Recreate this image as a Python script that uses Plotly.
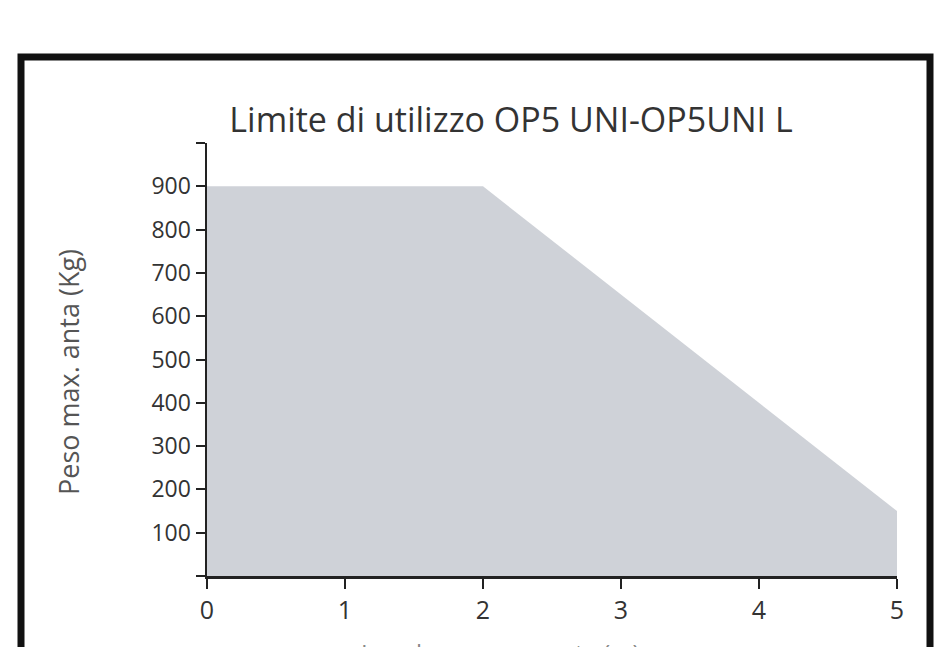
import plotly.graph_objects as go

# Data
lunghezza = [0, 2, 5]          # m
peso_max = [900, 900, 150]     # Kg
y_ticks = [0, 100, 200, 300, 400, 500, 600, 700, 800, 900, 1000]
y_tick_labels = ["", "100", "200", "300", "400", "500", "600", "700", "800", "900", ""]
x_ticks = [0, 1, 2, 3, 4, 5]
x_tick_labels = ["0", "1", "2", "3", "4", "5"]
title_text = "Limite di utilizzo OP5 UNI-OP5UNI L"
y_title = "Peso max. anta (Kg)"
x_title = "Lunghezza max. anta (m)"

W, H = 939, 647
L, R, T, B = 207, 42, 143, 71
pw, ph = W - L - R, H - T - B

def px(x):
    return (x - L) / pw

def py(y):
    return (H - B - y) / ph

fig = go.Figure()
fig.add_trace(go.Scatter(
    x=lunghezza, y=peso_max, mode="lines", fill="tozeroy",
    line=dict(width=0, color="#cfd2d8"), fillcolor="#cfd2d8",
    hoverinfo="skip", showlegend=False,
))

font = "Open Sans"
fig.update_layout(
    width=W, height=H,
    margin=dict(l=L, r=R, t=T, b=B, pad=0),
    paper_bgcolor="white", plot_bgcolor="white",
    font=dict(family=font, color="#333333"),
    title=dict(text=title_text, automargin=False,
               x=px(511), xref="paper", xanchor="center",
               y=1 - 120 / H, yref="container", yanchor="middle",
               font=dict(size=34, color="#333333", family=font)),
    xaxis=dict(range=[0, 5], tickvals=x_ticks, ticktext=x_tick_labels,
               automargin=False, fixedrange=True,
               showgrid=False, zeroline=False, showline=True,
               linecolor="#222222", linewidth=2.5,
               ticks="outside", ticklen=10, tickwidth=2, tickcolor="#222222",
               tickfont=dict(size=25, color="#333333")),
    yaxis=dict(range=[0, 1000], tickvals=y_ticks, ticktext=y_tick_labels,
               automargin=False, fixedrange=True,
               showgrid=False, zeroline=False, showline=True,
               linecolor="#222222", linewidth=2.5,
               ticks="outside", ticklen=9, tickwidth=2, tickcolor="#222222",
               tickfont=dict(size=23, color="#333333")),
    annotations=[
        dict(text=y_title, textangle=-90, xref="paper", yref="paper",
             x=px(68), y=py(372), xanchor="center", yanchor="middle",
             showarrow=False, font=dict(size=27, color="#555555", family=font)),
        dict(text=x_title, xref="paper", yref="paper",
             x=px(500), y=py(652), xanchor="center", yanchor="middle",
             showarrow=False, font=dict(size=24, color="#888888", family=font)),
    ],
    shapes=[dict(type="rect", xref="paper", yref="paper",
                 x0=px(21), x1=px(930), y0=py(720), y1=py(57),
                 line=dict(color="#111111", width=7), fillcolor="rgba(0,0,0,0)",
                 layer="above")],
)

fig.write_html("out.html", config={"staticPlot": True},
               post_script="document.body.style.margin='0px';document.body.style.overflow='hidden';")
